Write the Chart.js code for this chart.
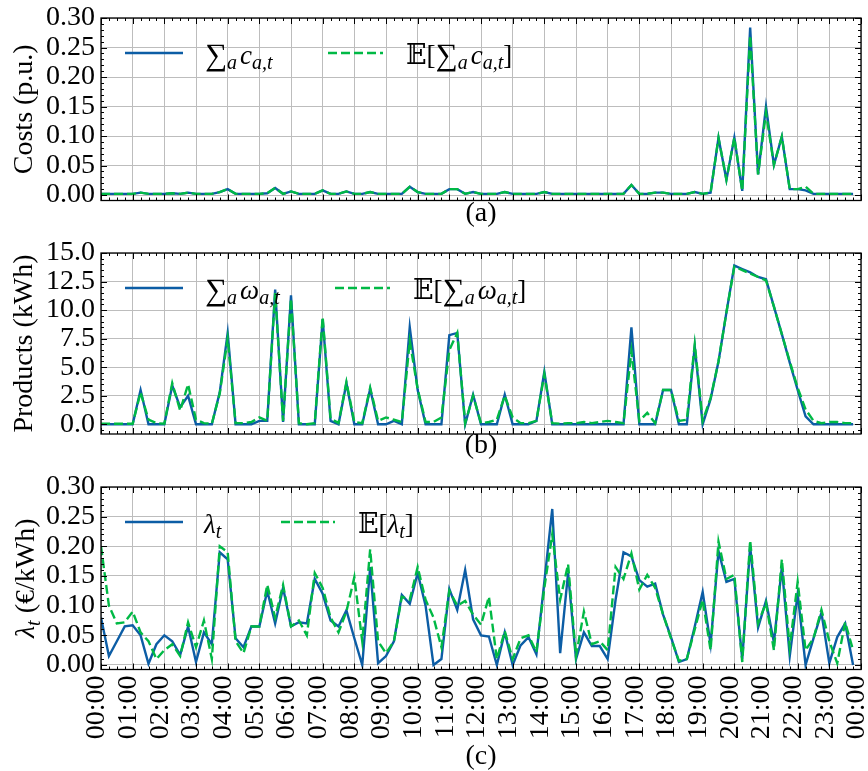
<!DOCTYPE html>
<html>
<head>
<meta charset="utf-8">
<script src="https://cdn.jsdelivr.net/npm/chart.js@4.4.1/dist/chart.umd.min.js"></script>
<style>
  html, body { margin: 0; padding: 0; background: #ffffff; }
  #wrap { position: relative; width: 868px; height: 771px; overflow: hidden; }
  #wrap canvas { position: absolute; left: 0; }
</style>
</head>
<body>
<div id="wrap">
  <canvas id="costChart" width="868" height="228" style="top:0px"></canvas>
  <canvas id="productChart" width="868" height="232" style="top:228px"></canvas>
  <canvas id="priceChart" width="868" height="311" style="top:460px"></canvas>
</div>
<script>
// ---- data: one value per 15-minute interval (96 per day) ----
const hourLabels = ["00:00","01:00","02:00","03:00","04:00","05:00","06:00","07:00","08:00","09:00","10:00","11:00",
  "12:00","13:00","14:00","15:00","16:00","17:00","18:00","19:00","20:00","21:00","22:00","23:00","00:00"];

const costTicks = [0, 0.05, 0.10, 0.15, 0.20, 0.25, 0.30];
const costTickLabels = ["0.00","0.05","0.10","0.15","0.20","0.25","0.30"];
const productTicks = [0, 2.5, 5, 7.5, 10, 12.5, 15];
const productTickLabels = ["0.0","2.5","5.0","7.5","10.0","12.5","15.0"];
const priceTicks = [0, 0.05, 0.10, 0.15, 0.20, 0.25, 0.30];
const priceTickLabels = ["0.00","0.05","0.10","0.15","0.20","0.25","0.30"];

const costRealized = [
  0.002,0.002,0.002,0.002,0.002, 0.004,0.002,0.002,0.002,0.003,
  0.002,0.004,0.002,0.002,0.002, 0.005,0.010,0.002,0.002,0.002,
  0.002,0.003,0.012,0.002,0.006, 0.002,0.002,0.002,0.008,0.002,
  0.002,0.006,0.002,0.002,0.005, 0.002,0.002,0.002,0.002,0.014,
  0.005,0.002,0.002,0.002,0.010, 0.010,0.002,0.005,0.002,0.002,
  0.002,0.005,0.002,0.002,0.002, 0.002,0.005,0.002,0.002,0.002,
  0.002,0.002,0.002,0.002,0.002, 0.002,0.002,0.017,0.002,0.002,
  0.004,0.004,0.002,0.002,0.002, 0.005,0.002,0.004,0.097,0.026,
  0.097,0.007,0.284,0.035,0.150, 0.051,0.099,0.010,0.010,0.008,
  0.002,0.002,0.002,0.002,0.002, 0.002
];
const costExpected = [
  0.002,0.002,0.002,0.002,0.002, 0.004,0.002,0.002,0.002,0.003,
  0.002,0.004,0.002,0.002,0.002, 0.005,0.010,0.002,0.002,0.002,
  0.002,0.003,0.012,0.002,0.006, 0.002,0.002,0.002,0.008,0.002,
  0.002,0.006,0.002,0.002,0.005, 0.002,0.002,0.002,0.002,0.014,
  0.005,0.002,0.002,0.002,0.010, 0.010,0.002,0.005,0.002,0.002,
  0.002,0.005,0.002,0.002,0.002, 0.002,0.005,0.002,0.002,0.002,
  0.002,0.002,0.002,0.002,0.002, 0.002,0.002,0.017,0.002,0.002,
  0.004,0.004,0.002,0.002,0.002, 0.005,0.002,0.004,0.097,0.026,
  0.097,0.007,0.270,0.035,0.140, 0.051,0.099,0.010,0.010,0.014,
  0.002,0.002,0.002,0.002,0.002, 0.002
];

const productRealized = [
  0,0,0,0,0,  3.0,0,0,0,3.4,  1.5,2.5,0,0,0,  2.8,8.0,0,0,0,
  0.3,0.3,11.8,0.2,11.3,  0,0,0,9.2,0.3,  0,3.6,0,0,3.1,  0,0,0.3,0,8.5,
  3.0,0,0,0,7.8,  8.0,0,2.6,0,0,  0,2.6,0,0,0,  0.3,4.6,0,0,0,
  0,0,0,0,0,  0,0,8.5,0,0,  0,3.0,3.0,0,0,  6.8,0,2.2,5.5,9.8,
  13.9,13.6,13.3,12.9,12.7,  10.3,7.9,5.4,3.0,0.7,  0,0,0,0,0,  0
];
const productExpected = [
  0.05,0.05,0.05,0.05,0.05,  2.8,0.4,0.1,0.05,3.6,  1.2,3.5,0.4,0.1,0.05,  2.7,7.5,0.1,0.1,0.2,
  0.6,0.3,11.5,0.3,11.0,  0.1,0.0,0.1,9.4,0.5,  0.1,3.7,0.2,0.1,3.2,  0.3,0.6,0.4,0.2,7.3,
  3.1,0.2,0.2,0.6,6.5,  8.0,0.1,2.5,0.1,0.2,  0.4,2.5,0.6,0.1,0.1,  0.3,4.4,0.1,0.05,0.1,
  0.1,0.2,0.1,0.2,0.3,  0.2,0.1,6.4,0.3,1.0,  0.1,3.0,3.0,0.3,0.4,  7.0,0.3,2.3,5.5,9.8,
  13.8,13.5,13.2,12.9,12.6,  10.3,7.9,5.5,3.2,1.3,  0.3,0.1,0.2,0.2,0.1,  0.1
];

const priceRealized = [
  0.080,0.015,0.040,0.065,0.067, 0.050,0.002,0.035,0.050,0.040,
  0.017,0.065,0.005,0.055,0.035, 0.190,0.178,0.045,0.030,0.065,
  0.065,0.125,0.070,0.130,0.065, 0.072,0.070,0.145,0.120,0.075,
  0.065,0.092,0.045,0.000,0.165, 0.003,0.015,0.040,0.118,0.103,
  0.155,0.100,0.000,0.010,0.128, 0.093,0.160,0.077,0.050,0.048,
  0.000,0.055,0.000,0.033,0.047, 0.018,0.140,0.263,0.020,0.155,
  0.010,0.055,0.032,0.032,0.010, 0.110,0.190,0.183,0.143,0.132,
  0.137,0.085,0.047,0.005,0.010, 0.065,0.123,0.035,0.192,0.140,
  0.145,0.010,0.200,0.063,0.108, 0.038,0.165,0.015,0.120,0.000,
  0.045,0.088,0.003,0.047,0.070, 0.000
];
const priceExpected = [
  0.200,0.100,0.070,0.072,0.090, 0.055,0.040,0.010,0.025,0.035,
  0.015,0.072,0.030,0.075,0.010, 0.200,0.190,0.040,0.020,0.065,
  0.065,0.135,0.080,0.135,0.065, 0.075,0.050,0.155,0.130,0.080,
  0.055,0.090,0.148,0.040,0.195, 0.040,0.020,0.040,0.115,0.110,
  0.165,0.110,0.080,0.030,0.125, 0.100,0.108,0.085,0.068,0.115,
  0.010,0.057,0.010,0.045,0.050, 0.022,0.130,0.220,0.110,0.170,
  0.015,0.090,0.035,0.040,0.025, 0.165,0.145,0.188,0.127,0.152,
  0.130,0.085,0.045,0.007,0.010, 0.060,0.110,0.025,0.208,0.145,
  0.152,0.005,0.210,0.070,0.105, 0.025,0.178,0.030,0.140,0.025,
  0.045,0.093,0.040,0.003,0.072, 0.025
];

// ---- styling ----
const BLUE = '#0C5DA5';
const GREEN = '#00B945';
const GRID = '#bdbdbd';
const SERIF = '"Liberation Serif", "Times New Roman", "DejaVu Serif", serif';
const MATH = '"DejaVu Serif", "DejaVu Sans", "Liberation Serif", serif';
const FS = 28;
const LS = 27;   // legend text size
const SS = 20;   // subscript size

// place each 15-minute value at its hour position on the linear x axis
const toXY = vals => vals.map((v, i) => ({ x: i / 4, y: v }));

// draw a sequence of styled text runs (for subscripts / italics), returns end x
function drawRuns(ctx, x, y, runs) {
  let cx = x;
  for (const r of runs) {
    ctx.font = (r.italic ? 'italic ' : '') + r.size + 'px ' + (r.family || SERIF);
    cx += r.dx || 0;
    ctx.fillText(r.t, cx, y + (r.dy || 0));
    cx += ctx.measureText(r.t).width;
  }
  return cx;
}
function runsWidth(ctx, runs) {
  let w = 0;
  for (const r of runs) {
    ctx.font = (r.italic ? 'italic ' : '') + r.size + 'px ' + (r.family || SERIF);
    w += (r.dx || 0) + ctx.measureText(r.t).width;
  }
  return w;
}

// axes frame with inward major/minor ticks on all four sides
const framePlugin = {
  id: 'frame',
  afterDatasetsDraw(chart, args, opts) {
    const { ctx, chartArea: a, scales: { x, y } } = chart;
    ctx.save();
    ctx.strokeStyle = '#000';
    ctx.lineWidth = 1;
    ctx.beginPath();
    for (let q = 0; q <= 96; q++) {
      const px = Math.round(x.getPixelForValue(q / 4)) + 0.5;
      const L = q % 4 === 0 ? 6 : 3;
      ctx.moveTo(px, a.bottom); ctx.lineTo(px, a.bottom - L);
      ctx.moveTo(px, a.top); ctx.lineTo(px, a.top + L);
    }
    const step = opts.minorStep;
    for (let k = Math.ceil(y.min / step - 1e-9); k * step <= y.max + 1e-9; k++) {
      const v = k * step;
      const major = opts.majors.some(m => Math.abs(m - v) < step / 10);
      const py = Math.round(y.getPixelForValue(v)) + 0.5;
      const L = major ? 6 : 3;
      ctx.moveTo(a.left, py); ctx.lineTo(a.left + L, py);
      ctx.moveTo(a.right, py); ctx.lineTo(a.right - L, py);
    }
    ctx.stroke();
    ctx.lineWidth = 1.3;
    ctx.strokeRect(a.left, a.top, a.right - a.left, a.bottom - a.top);
    ctx.restore();
  }
};

// legend with math-style labels, and an optional rich y-axis title
const mathTextPlugin = {
  id: 'mathText',
  afterDraw(chart, args, opts) {
    const { ctx, chartArea: a } = chart;
    ctx.save();
    ctx.fillStyle = '#000';
    ctx.textBaseline = 'alphabetic';
    ctx.textAlign = 'left';
    const ly = a.top + opts.dy;
    for (const it of opts.items) {
      ctx.strokeStyle = it.color;
      ctx.lineWidth = 2.5;
      ctx.setLineDash(it.dash);
      ctx.beginPath();
      ctx.moveTo(a.left + it.x0, ly);
      ctx.lineTo(a.left + it.x1, ly);
      ctx.stroke();
      ctx.setLineDash([]);
      drawRuns(ctx, a.left + it.tx, ly + 11, it.runs);
    }
    if (opts.yTitle) {
      const w = runsWidth(ctx, opts.yTitle);
      ctx.translate(opts.yTitleX, (a.top + a.bottom) / 2);
      ctx.rotate(-Math.PI / 2);
      drawRuns(ctx, -w / 2, 9, opts.yTitle);
    }
    ctx.restore();
  }
};

const sumRuns = sym => [
  { t: '\u2211', size: 31, dy: 1 },
  { t: 'a', size: SS, italic: true, dy: 5 },
  { t: sym, size: LS, italic: true, dx: 3 },
  { t: 'a,t', size: SS, italic: true, dy: 5 }
];
const expRuns = inner => [{ t: '\uD835\uDD3C', size: LS, family: MATH }, { t: '[', size: LS }]
  .concat(inner).concat([{ t: ']', size: LS }]);
const lambdaRuns = [{ t: '\u03BB', size: LS, italic: true }, { t: 't', size: SS, italic: true, dy: 5 }];

function makeChart(id, cfg) {
  return new Chart(document.getElementById(id), {
    type: 'line',
    data: {
      datasets: [
        { data: toXY(cfg.realized), borderColor: BLUE, borderWidth: 2.4, order: 1 },
        { data: toXY(cfg.expected), borderColor: GREEN, borderWidth: 2.4, borderDash: [9, 4], order: 0 }
      ]
    },
    options: {
      responsive: false,
      animation: false,
      events: [],
      layout: { padding: { left: 0, right: 7, top: cfg.padTop, bottom: 0 } },
      elements: { point: { radius: 0 }, line: { tension: 0 } },
      plugins: {
        legend: { display: false },
        tooltip: { enabled: false },
        frame: { minorStep: cfg.minorStep, majors: cfg.yTicks },
        mathText: { dy: 35, items: cfg.legend, yTitle: cfg.richTitle, yTitleX: 25 }
      },
      scales: {
        x: {
          type: 'linear', min: 0, max: 24,
          afterBuildTicks: s => { s.ticks = hourLabels.map((_, h) => ({ value: h })); },
          afterFit: s => { s.height = cfg.xHeight; s.paddingLeft = 0; s.paddingRight = 0; },
          grid: { color: GRID, lineWidth: 1, drawTicks: false },
          border: { display: false },
          ticks: {
            display: cfg.showHours, autoSkip: false, minRotation: 90, maxRotation: 90,
            padding: 6, labelOffset: -4, color: '#000',
            font: { family: SERIF, size: FS },
            callback: v => hourLabels[v]
          },
          title: { display: true, text: cfg.caption, color: '#000', padding: 0,
                   font: { family: SERIF, size: FS, lineHeight: 1 } }
        },
        y: {
          min: cfg.yMin, max: cfg.yMax,
          afterBuildTicks: s => { s.ticks = cfg.yTicks.map(v => ({ value: v })); },
          afterFit: s => { s.width = 101; s.paddingTop = 0; s.paddingBottom = 0; },
          grid: { color: GRID, lineWidth: 1, drawTicks: false },
          border: { display: false },
          ticks: { autoSkip: false, padding: 6, color: '#000', font: { family: SERIF, size: FS },
                   callback: (v, i) => cfg.yTickLabels[i] },
          title: { display: !!cfg.yTitle, text: cfg.yTitle, color: '#000',
                   padding: { top: 11, bottom: 0 },
                   font: { family: SERIF, size: FS, lineHeight: 1 } }
        }
      }
    },
    plugins: [framePlugin, mathTextPlugin]
  });
}

makeChart('costChart', {
  realized: costRealized, expected: costExpected,
  yMin: -0.0093, yMax: 0.30, yTicks: costTicks, yTickLabels: costTickLabels, minorStep: 0.01,
  padTop: 18, xHeight: 27.5, showHours: false, caption: '(a)', yTitle: 'Costs (p.u.)',
  legend: [
    { color: BLUE, dash: [], x0: 24, x1: 82, tx: 104, runs: sumRuns('c') },
    { color: GREEN, dash: [9, 4], x0: 227, x1: 282, tx: 305, runs: expRuns(sumRuns('c')) }
  ]
});

makeChart('productChart', {
  realized: productRealized, expected: productExpected,
  yMin: -0.85, yMax: 15, yTicks: productTicks, yTickLabels: productTickLabels, minorStep: 0.5,
  padTop: 25, xHeight: 26, showHours: false, caption: '(b)', yTitle: 'Products (kWh)',
  legend: [
    { color: BLUE, dash: [], x0: 24, x1: 82, tx: 104, runs: sumRuns('\u03C9') },
    { color: GREEN, dash: [9, 4], x0: 234, x1: 289, tx: 312, runs: expRuns(sumRuns('\u03C9')) }
  ]
});

makeChart('priceChart', {
  realized: priceRealized, expected: priceExpected,
  yMin: -0.0076, yMax: 0.30, yTicks: priceTicks, yTickLabels: priceTickLabels, minorStep: 0.01,
  padTop: 27, xHeight: 101.5, showHours: true, caption: '(c)', yTitle: '',
  richTitle: [
    { t: '\u03BB', size: FS, italic: true },
    { t: 't', size: 20, italic: true, dy: 6 },
    { t: ' (\u20AC/kWh)', size: FS }
  ],
  legend: [
    { color: BLUE, dash: [], x0: 24, x1: 82, tx: 103, runs: lambdaRuns },
    { color: GREEN, dash: [9, 4], x0: 180, x1: 234, tx: 257, runs: expRuns(lambdaRuns) }
  ]
});
</script>
</body>
</html>
